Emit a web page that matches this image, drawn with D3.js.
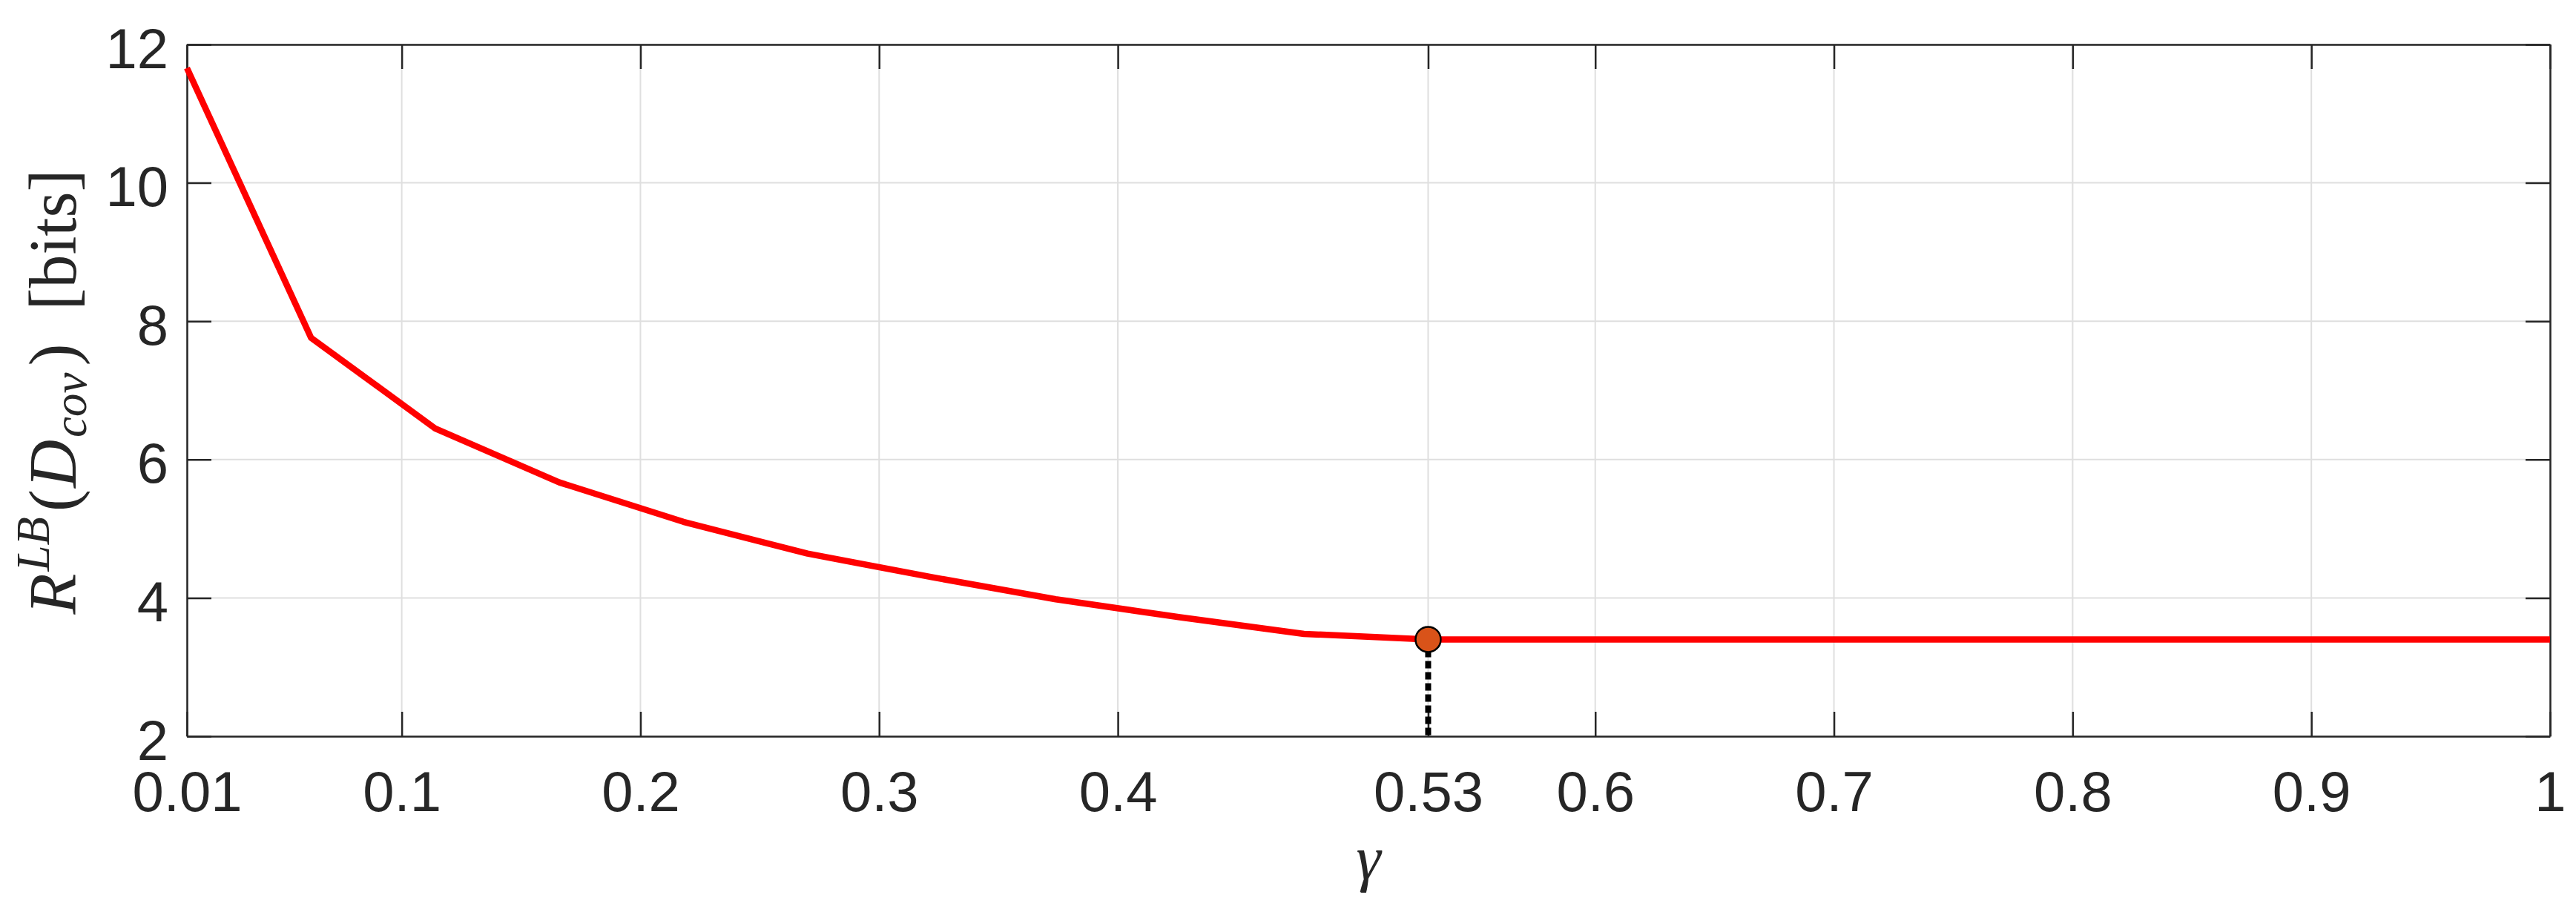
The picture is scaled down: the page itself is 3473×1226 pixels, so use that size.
<!DOCTYPE html>
<html>
<head>
<meta charset="utf-8">
<script src="https://cdn.jsdelivr.net/npm/d3@7"></script>
<style>
  html, body { margin: 0; padding: 0; background: #ffffff; }
  svg { display: block; }
</style>
</head>
<body>
<svg id="chart" width="3473" height="1226"></svg>
<script>
// ---- data ----
const gamma   = [0.01, 0.062, 0.114, 0.166, 0.218, 0.27, 0.322, 0.374, 0.426, 0.478, 0.53, 1];
const rateLB  = [11.66, 7.76, 6.45, 5.67, 5.10, 4.64, 4.30, 3.98, 3.72, 3.48, 3.40, 3.40];
const optGamma = [0.53];
const optRate  = [3.40];
const xTicks = [0.01, 0.1, 0.2, 0.3, 0.4, 0.53, 0.6, 0.7, 0.8, 0.9, 1];
const xTickLabels = ["0.01", "0.1", "0.2", "0.3", "0.4", "0.53", "0.6", "0.7", "0.8", "0.9", "1"];
const yTicks = [2, 4, 6, 8, 10, 12];
const yTickLabels = ["2", "4", "6", "8", "10", "12"];

// ---- layout ----
const W = 3473, H = 1226;
const L = 252, R = 3438, T = 60, B = 993;
const axisColor = "#262626";
const gridColor = "#dfdfdf";
const tickLen = 33;
const tickFont = "'Liberation Sans', Arial, Helvetica, sans-serif";
const tickFontSize = 76;
const serif = "'Liberation Serif', 'Times New Roman', serif";

const svg = d3.select("#chart");
svg.append("rect").attr("width", W).attr("height", H).attr("fill", "#fff");

const x = d3.scaleLinear().domain([0.01, 1]).range([L, R]);
const y = d3.scaleLinear().domain([2, 12]).range([B, T]);

// grid
const grid = svg.append("g");
grid.selectAll("line.gx").data(xTicks).join("line")
  .attr("x1", d => x(d)).attr("x2", d => x(d))
  .attr("y1", T).attr("y2", B)
  .attr("stroke", gridColor).attr("stroke-width", 2);
grid.selectAll("line.gy").data(yTicks).join("line")
  .attr("x1", L).attr("x2", R)
  .attr("y1", d => y(d)).attr("y2", d => y(d))
  .attr("stroke", gridColor).attr("stroke-width", 2);

// axes
function styleAxis(g) {
  g.selectAll(".domain").attr("stroke", axisColor).attr("stroke-width", 2.5);
  g.selectAll(".tick line").attr("stroke", axisColor).attr("stroke-width", 2.5);
  g.selectAll(".tick text")
    .attr("fill", axisColor)
    .attr("font-family", tickFont)
    .attr("font-size", tickFontSize);
}

const xAxis = svg.append("g").attr("transform", `translate(0,${B})`)
  .call(d3.axisBottom(x).tickValues(xTicks)
    .tickFormat((d, i) => xTickLabels[i])
    .tickSizeInner(-tickLen).tickSizeOuter(0).tickPadding(47));
styleAxis(xAxis);

const xAxisTop = svg.append("g").attr("transform", `translate(0,${T})`)
  .call(d3.axisTop(x).tickValues(xTicks).tickFormat(() => "")
    .tickSizeInner(-tickLen).tickSizeOuter(0));
styleAxis(xAxisTop);

const yAxis = svg.append("g").attr("transform", `translate(${L},0)`)
  .call(d3.axisLeft(y).tickValues(yTicks)
    .tickFormat((d, i) => yTickLabels[i])
    .tickSizeInner(-tickLen).tickSizeOuter(0).tickPadding(25));
styleAxis(yAxis);
yAxis.selectAll(".tick text").attr("dy", "0.41em");

const yAxisRight = svg.append("g").attr("transform", `translate(${R},0)`)
  .call(d3.axisRight(y).tickValues(yTicks).tickFormat(() => "")
    .tickSizeInner(-tickLen).tickSizeOuter(0));
styleAxis(yAxisRight);

// main curve
const pts = gamma.map((g, i) => [g, rateLB[i]]);
svg.append("path")
  .datum(pts)
  .attr("fill", "none")
  .attr("stroke", "#ff0000")
  .attr("stroke-width", 8.5)
  .attr("stroke-linejoin", "round")
  .attr("d", d3.line().x(d => x(d[0])).y(d => y(d[1])));

// dotted drop line
svg.selectAll("line.drop").data(optGamma).join("line")
  .attr("x1", d => x(d)).attr("x2", d => x(d))
  .attr("y1", (d, i) => y(optRate[i]) + 14).attr("y2", y(2))
  .attr("stroke", "#000").attr("stroke-width", 8)
  .attr("stroke-dasharray", "10,5");

// optimum marker
svg.selectAll("circle.opt").data(optGamma).join("circle")
  .attr("cx", d => x(d)).attr("cy", (d, i) => y(optRate[i]))
  .attr("r", 17)
  .attr("fill", "#d95319").attr("stroke", "#000").attr("stroke-width", 2.5);

// x label
svg.append("text")
  .attr("x", (L + R) / 2).attr("y", 1186)
  .attr("text-anchor", "middle")
  .attr("font-family", serif)
  .attr("font-style", "italic")
  .attr("font-size", 84)
  .attr("fill", axisColor)
  .text("γ");

// y label: R^{LB}(D_{cov}) [bits], laid out as adjacent pieces
const labelParts = [
  { t: "R",              it: true,  fs: 90, dy: 0,   gap: 0 },
  { t: "LB",             it: true,  fs: 63, dy: -36, gap: 3 },
  { t: "(",              it: false, fs: 90, dy: 0,   gap: 7 },
  { t: "D",              it: true,  fs: 90, dy: 0,   gap: 2 },
  { t: "cov",            it: true,  fs: 63, dy: 14,  gap: 3 },
  { t: ")\u2002[bits]",  it: false, fs: 90, dy: 0,   gap: 9 }
];
const ylg = svg.append("g")
  .attr("transform", `translate(102,${(T + B) / 2 + 2}) rotate(-90)`);
const pieces = ylg.selectAll("text").data(labelParts).join("text")
  .attr("font-family", serif)
  .attr("font-style", d => d.it ? "italic" : "normal")
  .attr("font-size", d => d.fs)
  .attr("fill", axisColor)
  .attr("y", d => d.dy)
  .style("white-space", "pre")
  .text(d => d.t);
const widths = [];
pieces.each(function () { widths.push(this.getComputedTextLength()); });
let total = 0;
labelParts.forEach((d, i) => { total += d.gap + widths[i]; });
let cur = -total / 2;
pieces.attr("x", (d, i) => { cur += d.gap; const p = cur; cur += widths[i]; return p; });
</script>
</body>
</html>
